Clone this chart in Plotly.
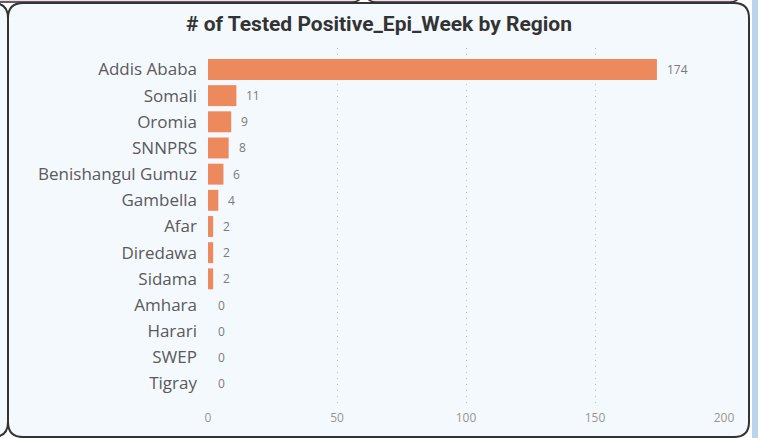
import plotly.graph_objects as go

regions = ["Addis Ababa", "Somali", "Oromia", "SNNPRS", "Benishangul Gumuz", "Gambella",
           "Afar", "Diredawa", "Sidama", "Amhara", "Harari", "SWEP", "Tigray"]
positives = [174, 11, 9, 8, 6, 4, 2, 2, 2, 0, 0, 0, 0]
x_ticks = [0, 50, 100, 150, 200]

W, H = 758, 438
ML, MR, MT, MB = 208, 34, 48, 33
PW, PH = W - ML - MR, H - MT - MB


def px(x):
    return (x - ML) / PW


def py(y):
    return 1 - (y - MT) / PH


def rounded_path(x0, y0, x1, y1, r):
    return (f"M {px(x0 + r)} {py(y0)} L {px(x1 - r)} {py(y0)} "
            f"Q {px(x1)} {py(y0)} {px(x1)} {py(y0 + r)} "
            f"L {px(x1)} {py(y1 - r)} Q {px(x1)} {py(y1)} {px(x1 - r)} {py(y1)} "
            f"L {px(x0 + r)} {py(y1)} Q {px(x0)} {py(y1)} {px(x0)} {py(y1 - r)} "
            f"L {px(x0)} {py(y0 + r)} Q {px(x0)} {py(y0)} {px(x0 + r)} {py(y0)} Z")


fig = go.Figure()
fig.add_trace(go.Bar(
    y=regions, x=positives, orientation="h",
    marker=dict(color="#EC8A5E", line=dict(width=0)),
    hoverinfo="x+y",
))

annotations = []
for r, v in zip(regions, positives):
    annotations.append(dict(
        x=v, y=r, xref="x", yref="y", text=str(v), showarrow=False,
        xanchor="left", yanchor="middle", xshift=8,
        font=dict(family="Open Sans, sans-serif", size=12, color="#7a7a7a"),
    ))
annotations.append(dict(
    x=px(379), y=py(24), xref="paper", yref="paper",
    text="<b># of Tested Positive_Epi_Week by Region</b>", showarrow=False,
    xanchor="center", yanchor="middle",
    font=dict(family="Roboto, sans-serif", size=21, color="#333333"),
))

shapes = [
    # right side strip
    dict(type="rect", xref="paper", yref="paper", x0=px(752), x1=px(760), y0=py(-5), y1=py(445),
         fillcolor="#BCD3EC", line=dict(width=0), layer="below"),
    # top pink cards
    dict(type="path", xref="paper", yref="paper", path=rounded_path(-20, -30, 362, 2, 10),
         fillcolor="#F3DCEA", line=dict(color="#333333", width=1.5), layer="below"),
    dict(type="path", xref="paper", yref="paper", path=rounded_path(366, -30, 740, 2, 10),
         fillcolor="#F3DCEA", line=dict(color="#333333", width=1.5), layer="below"),
    # left neighbouring card
    dict(type="path", xref="paper", yref="paper", path=rounded_path(-60, 3, 8, 437, 15),
         fillcolor="#F4F9FE", line=dict(color="#333333", width=2), layer="below"),
    # main card
    dict(type="path", xref="paper", yref="paper", path=rounded_path(8, 3, 749, 437, 15),
         fillcolor="#F4F9FE", line=dict(color="#333333", width=2), layer="below"),
]

fig.update_layout(
    width=W, height=H,
    margin=dict(l=ML, r=MR, t=MT, b=MB, pad=0),
    paper_bgcolor="white", plot_bgcolor="rgba(0,0,0,0)",
    showlegend=False, bargap=0.2,
    annotations=annotations, shapes=shapes,
    xaxis=dict(range=[0, 200], tickvals=x_ticks, showgrid=True, gridcolor="#b9bdc3",
               griddash="1px,5px", gridwidth=1, zeroline=False, showline=False,
               ticklabelstandoff=4,
               tickfont=dict(family="Open Sans, sans-serif", size=12, color="#9a9590"),
               fixedrange=True),
    yaxis=dict(type="category", categoryorder="array", categoryarray=regions,
               range=[12.82, -0.82], showgrid=False, zeroline=False, showline=False,
               ticklabelstandoff=10,
               tickfont=dict(family="Open Sans, sans-serif", size=17, color="#5a5a5a"),
               fixedrange=True),
)

fig.write_html("out.html", config={"displayModeBar": False},
               post_script="document.body.style.margin='0';")
